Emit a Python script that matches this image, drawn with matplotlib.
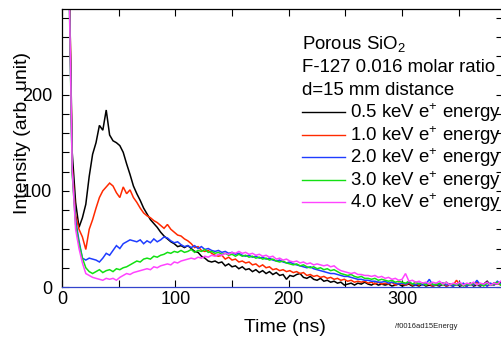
import numpy as np
import matplotlib
matplotlib.use("Agg")
import matplotlib.pyplot as plt
from matplotlib.lines import Line2D
from matplotlib.ticker import MultipleLocator

plt.rcParams['font.family'] = ['Liberation Sans', 'DejaVu Sans']
plt.rcParams['mathtext.default'] = 'regular'

# ---- data (time step 3 ns) ----
time_step = 3
black_05 = [1200, 800, 350, 140, 88, 62, 72, 86, 115, 138,
            150, 168, 163, 184, 158, 152, 150, 147, 140, 128,
            117, 105, 97, 90, 82, 76, 70, 66, 62, 57,
            53, 50, 47, 45, 42, 43, 41, 43, 40, 37,
            36, 32, 30, 27, 26, 27, 25, 26, 22, 24,
            21, 22, 19, 21, 18, 19, 16, 18, 15, 17,
            14, 16, 13, 15, 12, 13, 8, 12, 11, 13,
            14, 10, 9, 11, 8, 7, 9, 6, 7, 5,
            6, 4, 5, 2, 3, 4, 2, 4, 3, 5,
            3, 2, 4, 2, 3, 2, 3, 1, 2, 3,
            1, 2, 3, 1, 2, 1, 3, 1, 2, 1,
            2, 1, 3, 1, 2, 1, 3, 1, 2, 1,
            4, 1, 2, 1, 3, 6, 2, 4, 3, 5]
red_10 = [1200, 800, 360, 125, 75, 60, 52, 39, 60, 70,
          82, 93, 100, 104, 108, 105, 98, 93, 104, 97,
          101, 93, 88, 82, 77, 74, 72, 69, 67, 64,
          61, 65, 60, 57, 54, 53, 50, 48, 45, 41,
          42, 38, 37, 38, 35, 33, 32, 33, 29, 31,
          28, 29, 26, 27, 25, 26, 23, 24, 21, 23,
          20, 21, 18, 19, 17, 18, 16, 17, 15, 16,
          14, 15, 12, 13, 11, 12, 10, 11, 9, 10,
          8, 9, 7, 8, 6, 7, 5, 6, 5, 6,
          4, 5, 3, 5, 3, 4, 3, 5, 2, 4,
          3, 2, 4, 2, 3, 2, 4, 2, 3, 1,
          3, 2, 4, 1, 3, 2, 7, 2, 3, 1,
          3, 2, 5, 2, 3, 1, 3, 2, 4, 2]
blue_20 = [1200, 800, 340, 120, 70, 48, 30, 28, 30, 29,
           28, 26, 30, 35, 33, 38, 43, 40, 45, 47,
           49, 48, 47, 49, 45, 48, 46, 50, 47, 49,
           52, 51, 48, 46, 47, 44, 42, 43, 41, 43,
           40, 42, 39, 40, 38, 37, 38, 36, 37, 35,
           36, 34, 35, 33, 32, 33, 31, 32, 30, 31,
           29, 30, 28, 27, 28, 26, 25, 26, 24, 23,
           22, 21, 20, 21, 19, 18, 17, 16, 15, 14,
           14, 13, 12, 11, 11, 10, 9, 8, 8, 7,
           7, 6, 6, 5, 5, 6, 4, 5, 4, 3,
           4, 3, 5, 3, 2, 4, 2, 3, 8, 2,
           3, 2, 4, 2, 3, 1, 3, 2, 4, 1,
           3, 2, 7, 2, 3, 1, 4, 2, 6, 3]
green_30 = [1200, 800, 330, 118, 65, 45, 30, 20, 16, 14,
            16, 18, 15, 17, 18, 16, 19, 18, 20, 21,
            23, 25, 27, 26, 29, 30, 29, 32, 31, 33,
            34, 36, 35, 37, 36, 38, 36, 37, 39, 36,
            38, 37, 39, 36, 37, 35, 36, 34, 35, 33,
            34, 32, 34, 32, 33, 31, 32, 30, 31, 29,
            30, 28, 29, 27, 26, 27, 25, 24, 23, 24,
            22, 23, 21, 20, 21, 19, 20, 18, 19, 17,
            18, 16, 14, 13, 12, 13, 11, 10, 11, 9,
            9, 8, 9, 7, 8, 7, 6, 7, 5, 6,
            5, 4, 6, 3, 5, 3, 4, 2, 4, 3,
            2, 4, 2, 5, 2, 3, 2, 4, 1, 3,
            2, 4, 2, 3, 1, 4, 2, 3, 5, 2]
magenta_40 = [1200, 800, 335, 122, 60, 40, 25, 14, 12, 10,
              9, 8, 7, 9, 8, 9, 7, 10, 12, 14,
              13, 15, 16, 17, 18, 19, 18, 21, 20, 22,
              23, 24, 23, 26, 25, 27, 28, 29, 30, 29,
              31, 30, 32, 31, 33, 32, 34, 33, 35, 34,
              36, 35, 37, 35, 36, 34, 35, 33, 34, 32,
              33, 31, 32, 29, 30, 28, 29, 27, 26, 27,
              25, 26, 24, 25, 23, 24, 23, 22, 23, 21,
              22, 19, 17, 16, 15, 14, 15, 13, 13, 12,
              12, 11, 12, 10, 11, 9, 10, 8, 9, 7,
              8, 14, 6, 7, 5, 6, 4, 5, 3, 5,
              4, 6, 3, 5, 2, 4, 3, 5, 2, 4,
              3, 5, 2, 4, 3, 5, 2, 4, 3, 6]

series_labels = ['0.5 keV e$^{+}$ energy', '1.0 keV e$^{+}$ energy',
                 '2.0 keV e$^{+}$ energy', '3.0 keV e$^{+}$ energy',
                 '4.0 keV e$^{+}$ energy']
series_values = [black_05, red_10, blue_20, green_30, magenta_40]
series_colors = ['#000000', '#ff2a00', '#1f3dff', '#12e012', '#ff44ff']
header_lines = ['Porous SiO$_{2}$', 'F-127 0.016 molar ratio', 'd=15 mm distance']
x_ticks = [0, 100, 200, 300]
y_ticks = [0, 100, 200]

W, H = 502, 338
fig = plt.figure(figsize=(W / 100, H / 100), dpi=100)
ax = fig.add_axes([62 / W, 1 - 287 / H, (503 - 62) / W, (287 - 9) / H])

for vals, col in zip(series_values, series_colors):
    t = np.arange(len(vals)) * time_step
    ax.plot(t, vals, color=col, lw=1.1, solid_joinstyle='miter')

ax.set_xlim(0, 389)
ax.set_ylim(0, 289)
ax.set_xticks(x_ticks)
ax.set_yticks(y_ticks)
ax.xaxis.set_minor_locator(MultipleLocator(50))
ax.yaxis.set_minor_locator(MultipleLocator(20))
ax.tick_params(which='both', direction='in', top=True, right=True,
               length=5, width=0.8, labelsize=13)
ax.tick_params(axis='x', pad=3)
ax.tick_params(axis='y', pad=7)
for s in ax.spines.values():
    s.set_linewidth(0.9)
ax.spines['bottom'].set_color('#3344cc')

def fx(x):
    return x / W

def fy(y):
    return 1 - y / H

fig.text(fx(23), fy(133), 'Intensity (arb. unit)', rotation=90,
         ha='center', va='center', fontsize=14)
fig.text(fx(285), fy(327), 'Time (ns)', ha='center', va='center', fontsize=14)
fig.text(fx(395), fy(327), '/f0016ad15Energy', ha='left', va='center',
         fontsize=5.5, color='#222222')

header_base = [49, 72, 95]
for txt, yb in zip(header_lines, header_base):
    fig.text(fx(302), fy(yb), txt, ha='left', va='baseline', fontsize=13.4)

row_centers = [112, 135, 157, 180, 202]
for lab, col, yc in zip(series_labels, series_colors, row_centers):
    fig.add_artist(Line2D([fx(302), fx(345)], [fy(yc), fy(yc)], color=col,
                          lw=1.0, transform=fig.transFigure))
    fig.text(fx(350), fy(yc + 6), lab, ha='left', va='baseline', fontsize=13.4)

fig.savefig('out.png', dpi=100)
